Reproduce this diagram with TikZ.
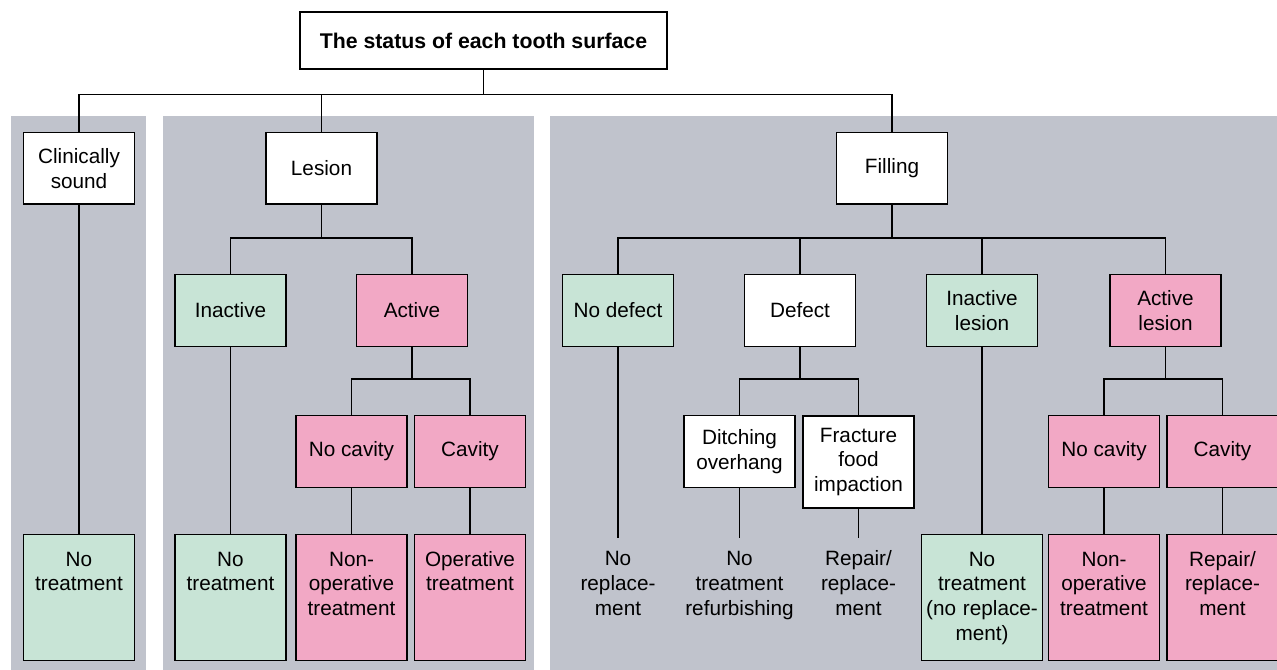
\documentclass[tikz,border=0pt]{standalone}
\usepackage{fontspec}
\setmainfont{Liberation Sans}
\definecolor{panelGrey}{RGB}{192,195,204}
\definecolor{soundGreen}{RGB}{200,228,214}
\definecolor{activePink}{RGB}{242,168,197}
\begin{document}
\begin{tikzpicture}[
    cariesBk/.style={rectangle,draw=black,line width=0.6pt,fill=white,minimum width=2.22cm,minimum height=1.43cm,inner xsep=0.05cm,align=center,font=\fontsize{11.8}{14.2}\selectfont},
    cariesGn/.style={cariesBk,fill=soundGreen},
    cariesPk/.style={cariesBk,fill=activePink},
    cariesEnd/.style={anchor=north,text width=2.12cm,inner ysep=0.15cm,text height=0.48cm,text depth=1.74cm},
    cariesTx/.style={anchor=north,align=center,text width=2.4cm,inner xsep=0pt,inner ysep=0.08cm,text height=0.48cm,font=\fontsize{11.8}{14.2}\selectfont},
    cariesLn/.style={line width=0.6pt},
]
\useasboundingbox (0,0) rectangle (25.54,-13.4);
% Grey panels
\fill[panelGrey] (0.22,-2.32) rectangle (2.91,-13.4);
\fill[panelGrey] (3.25,-2.32) rectangle (10.68,-13.4);
\fill[panelGrey] (11.0,-2.32) rectangle (25.6,-13.4);
\node[cariesBk,minimum width=7.34cm,minimum height=1.14cm,font=\fontsize{12.1}{14.5}\selectfont\bfseries] (root) at (9.67,-0.81) {The status of each tooth surface};
\node[cariesBk] (clin) at (1.58,-3.365) {Clinically\\sound};
\node[cariesBk] (lesion) at (6.43,-3.365) {Lesion};
\node[cariesBk] (filling) at (17.84,-3.365) {Filling};
\node[cariesGn] (inact) at (4.61,-6.21) {Inactive};
\node[cariesPk] (act) at (8.24,-6.21) {Active};
\node[cariesGn] (nodef) at (12.36,-6.21) {No defect};
\node[cariesBk] (defect) at (16.0,-6.21) {Defect};
\node[cariesGn] (inactles) at (19.64,-6.21) {Inactive\\lesion};
\node[cariesPk] (actles) at (23.31,-6.21) {Active\\lesion};
\node[cariesPk] (nocavL) at (7.03,-9.03) {No cavity};
\node[cariesPk] (cavL) at (9.40,-9.03) {Cavity};
\node[cariesBk] (ditch) at (14.79,-9.03) {Ditching\\overhang};
\node[cariesBk,minimum height=1.84cm] (fract) at (17.17,-9.24) {Fracture\\food\\impaction};
\node[cariesPk] (nocavF) at (22.08,-9.03) {No cavity};
\node[cariesPk] (cavF) at (24.45,-9.03) {Cavity};
\node[cariesGn,cariesEnd] (treatC) at (1.58,-10.68) {No\\treatment};
\node[cariesGn,cariesEnd] (treatI) at (4.61,-10.68) {No\\treatment};
\node[cariesPk,cariesEnd] (nonopL) at (7.03,-10.68) {Non-\\operative\\treatment};
\node[cariesPk,cariesEnd] (operL) at (9.40,-10.68) {Operative\\treatment};
\node[cariesTx] (norep) at (12.36,-10.75) {No\\replace-\\ment};
\node[cariesTx] (refurb) at (14.79,-10.75) {No\\treatment\\refurbishing};
\node[cariesTx] (repairR) at (17.17,-10.75) {Repair/\\replace-\\ment};
\node[cariesGn,cariesEnd,text width=2.32cm] (treatIL) at (19.64,-10.68) {No\\treatment\\(no replace-\\ment)};
\node[cariesPk,cariesEnd] (nonopF) at (22.08,-10.68) {Non-\\operative\\treatment};
\node[cariesPk,cariesEnd] (repairF) at (24.45,-10.68) {Repair/\\replace-\\ment};
% Branch points
\coordinate (busTop) at (9.67,-1.89);
\coordinate (busLes) at (6.43,-4.76);
\coordinate (busFil) at (17.84,-4.76);
\coordinate (busAct) at (8.24,-7.58);
\coordinate (busDef) at (16.0,-7.58);
\coordinate (busActL) at (23.31,-7.58);
\draw[cariesLn] (root.south) -- (busTop);
\draw[cariesLn] (clin.north) |- (busTop) -| (filling.north);
\draw[cariesLn] (lesion.north) -- (lesion.north |- busTop);
\draw[cariesLn] (lesion.south) -- (busLes);
\draw[cariesLn] (inact.north) |- (busLes) -| (act.north);
\draw[cariesLn] (filling.south) -- (busFil);
\draw[cariesLn] (nodef.north) |- (busFil) -| (actles.north);
\draw[cariesLn] (defect.north) -- (defect.north |- busFil);
\draw[cariesLn] (inactles.north) -- (inactles.north |- busFil);
\draw[cariesLn] (act.south) -- (busAct);
\draw[cariesLn] (nocavL.north) |- (busAct) -| (cavL.north);
\draw[cariesLn] (defect.south) -- (busDef);
\draw[cariesLn] (ditch.north) |- (busDef) -| (fract.north);
\draw[cariesLn] (actles.south) -- (busActL);
\draw[cariesLn] (nocavF.north) |- (busActL) -| (cavF.north);
% Down to the outcomes
\draw[cariesLn] (clin.south) -- (treatC.north);
\draw[cariesLn] (inact.south) -- (treatI.north);
\draw[cariesLn] (nocavL.south) -- (nonopL.north);
\draw[cariesLn] (cavL.south) -- (operL.north);
\draw[cariesLn] (nodef.south) -- (norep.north);
\draw[cariesLn] (ditch.south) -- (refurb.north);
\draw[cariesLn] (fract.south) -- (repairR.north);
\draw[cariesLn] (inactles.south) -- (treatIL.north);
\draw[cariesLn] (nocavF.south) -- (nonopF.north);
\draw[cariesLn] (cavF.south) -- (repairF.north);
\end{tikzpicture}
\end{document}
